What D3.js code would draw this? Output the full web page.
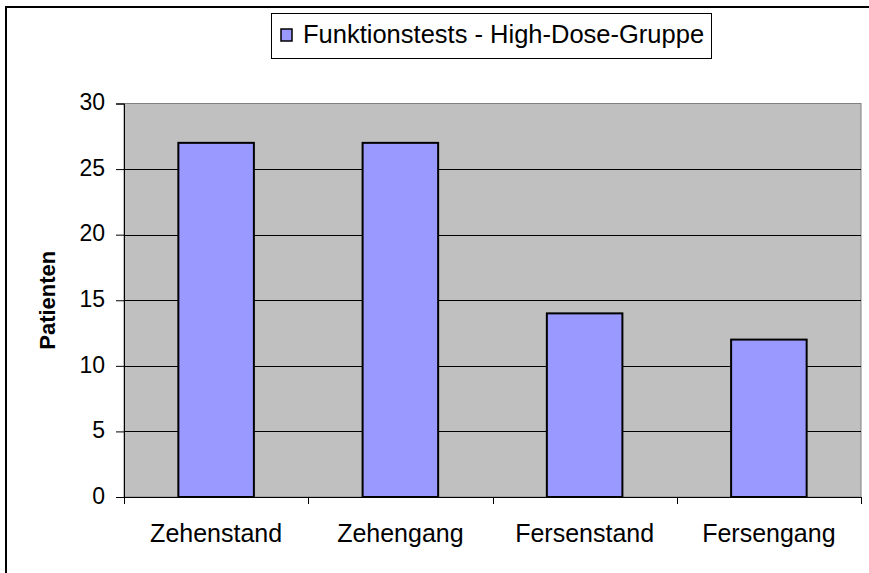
<!DOCTYPE html>
<html>
<head>
<meta charset="utf-8">
<script src="https://cdn.jsdelivr.net/npm/d3@7"></script>
<style>
    html, body { margin: 0; padding: 0; background: #fff; }
    svg { display: block; font-family: "Liberation Sans", Arial, sans-serif; }
</style>
</head>
<body>
<div id="chart"></div>
<script>
"use strict";

var categories = ["Zehenstand", "Zehengang", "Fersenstand", "Fersengang"];
var patienten = [27, 27, 14, 12];
var yTicks = [0, 5, 10, 15, 20, 25, 30];
var seriesName = "Funktionstests - High-Dose-Gruppe";
var yTitle = "Patienten";

(function () {
    var width = 869, height = 573;
    var plot = { left: 124, top: 103.5, right: 861, bottom: 497 };

    var svg = d3.select("#chart").append("svg")
        .attr("width", width)
        .attr("height", height);

    //  Chart frame (cropped: only left and top edges visible)  ---
    svg.append("rect")
        .attr("x", 6).attr("y", 7)
        .attr("width", 1000).attr("height", 1000)
        .attr("fill", "#fff")
        .attr("stroke", "#000")
        .attr("stroke-width", 2);

    var x = d3.scaleBand()
        .domain(categories)
        .range([plot.left, plot.right])
        .padding(0);

    var y = d3.scaleLinear()
        .domain([0, 30])
        .range([plot.bottom, plot.top]);

    //  Plot area  ---
    svg.append("rect")
        .attr("x", plot.left).attr("y", plot.top)
        .attr("width", plot.right - plot.left)
        .attr("height", plot.bottom - plot.top)
        .attr("fill", "#c0c0c0")
        .attr("stroke", "#808080")
        .attr("stroke-width", 1);

    //  Gridlines  ---
    svg.append("g")
        .selectAll("line")
        .data(yTicks.filter(function (d) { return d > 0 && d < 30; }))
        .enter().append("line")
        .attr("x1", plot.left).attr("x2", plot.right)
        .attr("y1", function (d) { return Math.round(y(d)) + 0.5; })
        .attr("y2", function (d) { return Math.round(y(d)) + 0.5; })
        .attr("stroke", "#000")
        .attr("stroke-width", 1);

    //  Bars  ---
    var barW = x.bandwidth() * 0.41;
    svg.append("g")
        .selectAll("rect")
        .data(patienten)
        .enter().append("rect")
        .attr("x", function (d, i) { return x(categories[i]) + (x.bandwidth() - barW) / 2; })
        .attr("y", function (d) { return y(d); })
        .attr("width", barW)
        .attr("height", function (d) { return y(0) - y(d); })
        .attr("fill", "#9999ff")
        .attr("stroke", "#000")
        .attr("stroke-width", 2);

    //  Y axis  ---
    var yAxis = svg.append("g")
        .attr("transform", "translate(" + plot.left + ",0)")
        .call(d3.axisLeft(y).tickValues(yTicks).tickSize(8).tickPadding(11).tickFormat(d3.format("d")));
    yAxis.select(".domain").attr("stroke", "#000");
    yAxis.selectAll(".tick line").attr("stroke", "#000");
    yAxis.selectAll("text")
        .attr("font-size", "23px")
        .attr("dy", "0.27em")
        .attr("font-family", "Liberation Sans, Arial, sans-serif")
        .attr("fill", "#000");

    //  X axis  ---
    var xAxis = svg.append("g")
        .attr("transform", "translate(0," + plot.bottom + ")")
        .call(d3.axisBottom(x).tickSize(0).tickPadding(27));
    xAxis.select(".domain").attr("stroke", "#000");
    xAxis.selectAll("text")
        .attr("font-size", "25px")
        .attr("font-family", "Liberation Sans, Arial, sans-serif")
        .attr("fill", "#000");
    var boundaries = categories.map(function (c) { return x(c); }).concat([plot.right]);
    xAxis.selectAll(".boundary")
        .data(boundaries)
        .enter().append("line")
        .attr("class", "boundary")
        .attr("x1", function (d) { return Math.round(d) + 0.5; })
        .attr("x2", function (d) { return Math.round(d) + 0.5; })
        .attr("y1", 0).attr("y2", 7)
        .attr("stroke", "#000");

    //  Y title  ---
    svg.append("text")
        .attr("transform", "translate(55," + ((plot.top + plot.bottom) / 2) + ") rotate(-90)")
        .attr("text-anchor", "middle")
        .attr("font-size", "22px")
        .attr("font-weight", "bold")
        .text(yTitle);

    //  Legend  ---
    var legend = svg.append("g");
    legend.append("rect")
        .attr("x", 271.5).attr("y", 13.5)
        .attr("width", 440).attr("height", 45)
        .attr("fill", "#fff")
        .attr("stroke", "#000")
        .attr("stroke-width", 1);
    legend.append("rect")
        .attr("x", 281).attr("y", 29)
        .attr("width", 11).attr("height", 12)
        .attr("fill", "#9999ff")
        .attr("stroke", "#000")
        .attr("stroke-width", 1.5);
    legend.append("text")
        .attr("x", 303).attr("y", 43)
        .attr("font-size", "25.5px")
        .text(seriesName);
}());
</script>
</body>
</html>
